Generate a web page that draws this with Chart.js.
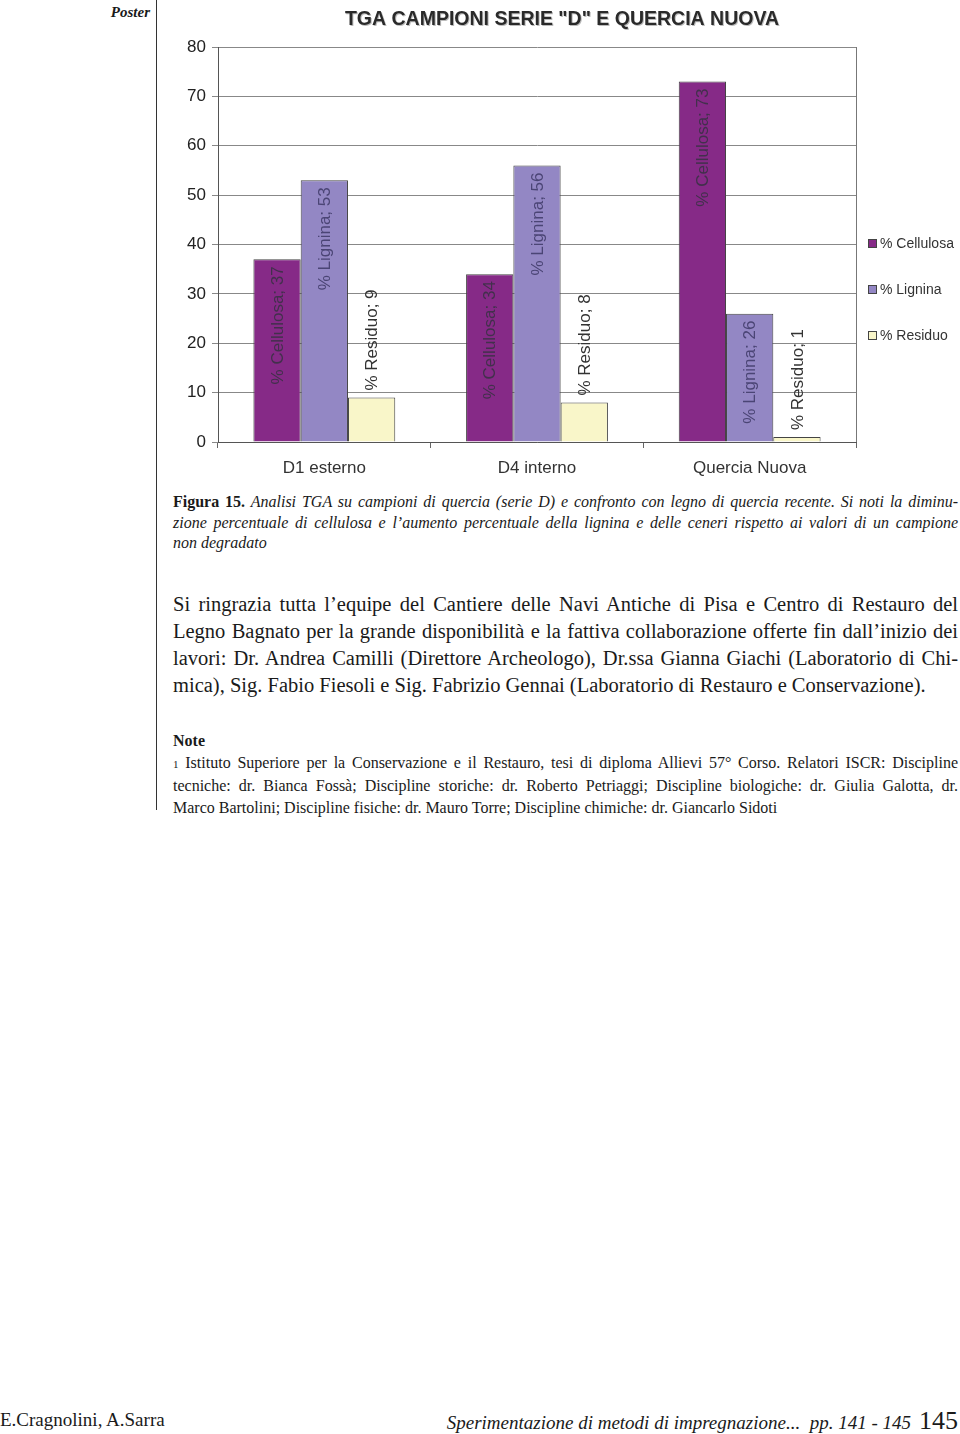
<!DOCTYPE html>
<html>
<head>
<meta charset="utf-8">
<script src="https://cdn.jsdelivr.net/npm/chart.js@4"></script>
<style>
body { margin: 0; width: 960px; height: 1434px; position: relative; background: #fff; font-family: "Liberation Serif", serif; color: #1a1a1a; overflow: hidden; }
.rule { position: absolute; left: 156px; top: 0; width: 1px; height: 810px; background: #333; }
.poster { position: absolute; right: 810px; top: 4px; font-style: italic; font-weight: bold; font-size: 15px; }
.chartBox { position: absolute; left: 160px; top: 0; width: 800px; height: 490px; }
.block { position: absolute; left: 173px; width: 785px; }
.block div { text-align: justify; text-align-last: justify; }
.block div.last { text-align-last: left; }
.caption { top: 492px; font-size: 16px; line-height: 20.5px; font-style: italic; }
.caption b { font-style: normal; }
.body { top: 591px; font-size: 20.5px; line-height: 27px; }
.notes { top: 730px; font-size: 16px; line-height: 22px; }
.footer { position: absolute; top: 1409px; left: 0; width: 958px; font-size: 19px; }
.footer .r { position: absolute; right: 0; top: -3px; }
.footer .r i { font-size: 19px; }
.footer .r span { font-size: 26px; margin-left: 8px; }
</style>
</head>
<body>
<div class="rule"></div>
<div class="poster">Poster</div>
<div class="chartBox"><canvas id="myChart" width="800" height="490"></canvas></div>

<div class="block caption">
  <div><b>Figura 15.</b> Analisi TGA su campioni di quercia (serie D) e confronto con legno di quercia recente. Si noti la diminu-</div>
  <div>zione percentuale di cellulosa e l’aumento percentuale della lignina e delle ceneri rispetto ai valori di un campione</div>
  <div class="last">non degradato</div>
</div>

<div class="block body">
  <div>Si ringrazia tutta l’equipe del Cantiere delle Navi Antiche di Pisa e Centro di Restauro del</div>
  <div>Legno Bagnato per la grande disponibilità e la fattiva collaborazione offerte fin dall’inizio dei</div>
  <div>lavori: Dr. Andrea Camilli (Direttore Archeologo), Dr.ssa Gianna Giachi (Laboratorio di Chi-</div>
  <div class="last">mica), Sig. Fabio Fiesoli e Sig. Fabrizio Gennai (Laboratorio di Restauro e Conservazione).</div>
</div>

<div class="block notes">
  <div class="last"><b>Note</b></div>
  <div><span style="font-size:11px">1</span> Istituto Superiore per la Conservazione e il Restauro, tesi di diploma Allievi 57° Corso. Relatori ISCR: Discipline</div>
  <div>tecniche: dr. Bianca Fossà; Discipline storiche: dr. Roberto Petriaggi; Discipline biologiche: dr. Giulia Galotta, dr.</div>
  <div class="last">Marco Bartolini; Discipline fisiche: dr. Mauro Torre; Discipline chimiche: dr. Giancarlo Sidoti</div>
</div>

<div class="footer">
  E.Cragnolini, A.Sarra
  <div class="r"><i>Sperimentazione di metodi di impregnazione...&nbsp; pp. 141 - 145</i><span>145</span></div>
</div>

<script>
// dati del grafico
const categorie = ['D1 esterno', 'D4 interno', 'Quercia Nuova'];
const serie = ['% Cellulosa', '% Lignina', '% Residuo'];
const cellulosa = [37, 34, 73];
const lignina = [53, 56, 26];
const residuo = [9, 8, 1];
const yTicks = [0, 10, 20, 30, 40, 50, 60, 70, 80];

const colori = ['#862a87', '#9387c4', '#f9f6c9'];
const coloriTesto = ['#42304c', '#4b4575', '#333333'];
const titolo = 'TGA CAMPIONI SERIE "D" E QUERCIA NUOVA';
const font = '"Liberation Sans", Arial, sans-serif';

//etichette ruotate sulle barre
const etichette = {
    id: 'etichette',
    afterDatasetsDraw(chart) {
        const ctx = chart.ctx;
        ctx.save();
        ctx.font = '17px ' + font;
        ctx.textBaseline = 'middle';
        chart.data.datasets.forEach((ds, i) => {
            const meta = chart.getDatasetMeta(i);
            meta.data.forEach((bar, j) => {
                const txt = ds.label + '; ' + ds.data[j];
                const w = ctx.measureText(txt).width;
                const h = bar.base - bar.y;
                ctx.save();
                ctx.translate(bar.x, bar.y);
                ctx.rotate(-Math.PI / 2);
                if (w + 14 < h) {
                    // dentro la barra
                    ctx.textAlign = 'right';
                    ctx.fillStyle = coloriTesto[i];
                    ctx.fillText(txt, -7, 1);
                } else {
                    // sopra la barra
                    ctx.textAlign = 'left';
                    ctx.fillStyle = '#333';
                    ctx.fillText(txt, 7, 1);
                }
                ctx.restore();
            });
        });
        ctx.restore();
    }
};

//titolo, bordo destro e legenda
const extra = {
    id: 'extra',
    afterDraw(chart) {
        const ctx = chart.ctx;
        const a = chart.chartArea;
        ctx.save();
        ctx.strokeStyle = '#777';
        ctx.lineWidth = 1;
        ctx.beginPath();
        ctx.moveTo(Math.round(a.right) + 0.5, a.top);
        ctx.lineTo(Math.round(a.right) + 0.5, a.bottom);
        ctx.stroke();

        ctx.font = 'bold 19.5px ' + font;
        ctx.textAlign = 'center';
        ctx.textBaseline = 'middle';
        ctx.fillStyle = '#bbb';
        ctx.fillText(titolo, 403, 21);
        ctx.fillStyle = '#2a2a2a';
        ctx.fillText(titolo, 402, 20);

        ctx.font = '14px ' + font;
        ctx.textAlign = 'left';
        chart.data.datasets.forEach((ds, i) => {
            const y = 244 + i * 46;
            ctx.fillStyle = ds.backgroundColor;
            ctx.fillRect(708.5, y - 4.5, 8, 8);
            ctx.strokeStyle = '#444';
            ctx.strokeRect(708.5, y - 4.5, 8, 8);
            ctx.fillStyle = '#333';
            ctx.fillText(ds.label, 720, y);
        });
        ctx.restore();
    }
};

const cv = document.querySelector('#myChart').getContext('2d');
const myChart = new Chart(cv, {
    type: 'bar',
    data: {
        labels: categorie,
        datasets: [cellulosa, lignina, residuo].map((d, i) => ({
            label: serie[i],
            data: d,
            backgroundColor: colori[i],
            borderColor: '#444',
            borderWidth: 1,
            categoryPercentage: 0.667,
            barPercentage: 1
        }))
    },
    options: {
        responsive: false,
        animation: false,
        layout: { padding: { left: 0, right: 104, top: 47, bottom: 0 } },
        plugins: {
            legend: { display: false },
            title: { display: false },
            tooltip: { enabled: false }
        },
        scales: {
            x: {
                afterFit: s => { s.height = 48; },
                grid: { offset: true, drawOnChartArea: false, drawTicks: true, tickLength: 6, color: '#666' },
                border: { color: '#555' },
                ticks: { color: '#333', font: { family: font, size: 17 }, padding: 10 }
            },
            y: {
                min: 0,
                max: 80,
                afterFit: s => { s.width = 58; },
                afterBuildTicks: s => { s.ticks = yTicks.map(v => ({ value: v })); },
                grid: { color: '#888', tickLength: 6 },
                border: { color: '#555' },
                ticks: { color: '#222', font: { family: font, size: 17 }, padding: 6 }
            }
        }
    },
    plugins: [etichette, extra]
});
</script>
</body>
</html>
